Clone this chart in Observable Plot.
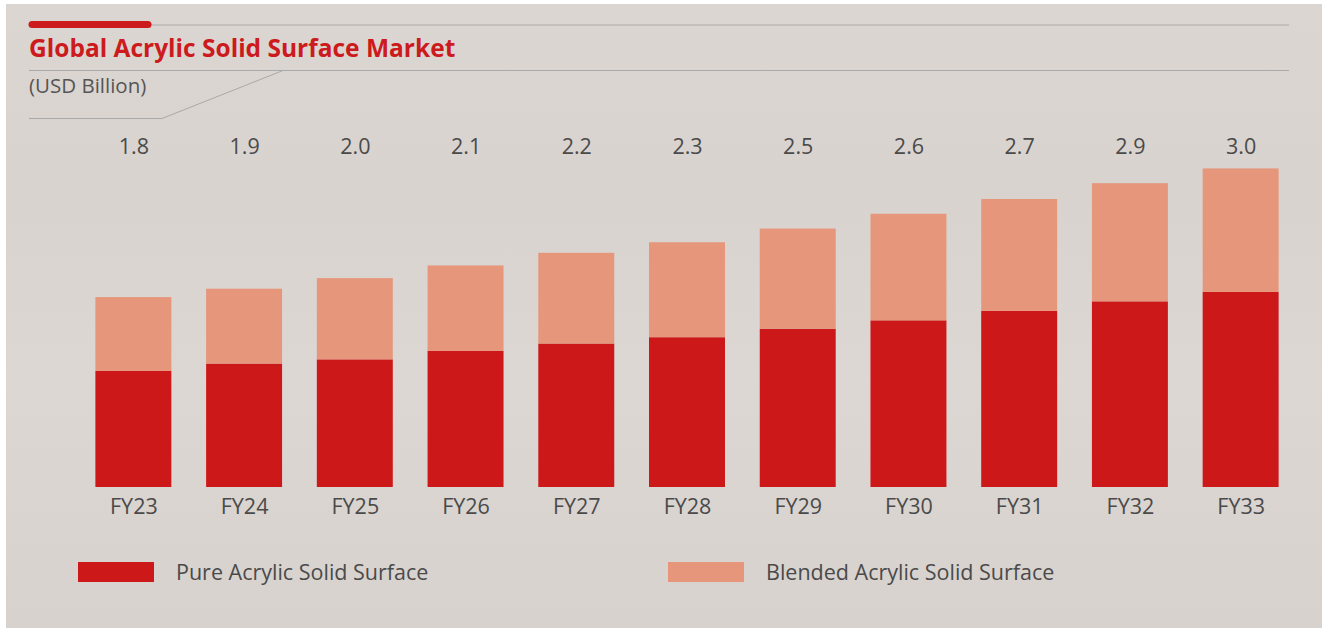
<!DOCTYPE html>
<html>
<head>
<meta charset="utf-8">
<script src="https://cdn.jsdelivr.net/npm/d3@7"></script>
<script src="https://cdn.jsdelivr.net/npm/@observablehq/plot@0.6"></script>
<style>
  html, body { margin: 0; padding: 0; background: #ffffff; }
  #page { position: relative; width: 1328px; height: 632px; overflow: hidden; font-family: "Open Sans", sans-serif; }
  #panel { position: absolute; left: 6px; top: 4px; width: 1316px; height: 624px;
    background: linear-gradient(180deg, #dcd6d2 0%, #d9d3cf 30%, #dcd7d3 60%, #d8d2ce 100%); }
  #deco { position: absolute; left: 0; top: 0; }
  #chart { position: absolute; left: 0; top: 0; }
  .legend-item { position: absolute; top: 562px; display: flex; align-items: center; }
  .swatch { width: 76px; height: 20px; }
  .legend-label { font-size: 21.5px; color: #4a4a4a; margin-left: 22px; line-height: 20px; }
</style>
</head>
<body>
<div id="page">
  <div id="panel"></div>
  <svg id="deco" width="1328" height="632">
    <line x1="151" y1="25" x2="1289" y2="25" stroke="#a9a9a9" stroke-width="1"/>
    <line x1="32" y1="24.5" x2="148" y2="24.5" stroke="#cc1a1d" stroke-width="7" stroke-linecap="round"/>
    <line x1="29" y1="70.5" x2="1289" y2="70.5" stroke="#a9a9a9" stroke-width="1"/>
    <polyline points="29,118.5 162,118.5 283,70.5" fill="none" stroke="#a9a9a9" stroke-width="1"/>
    <text x="29" y="57" fill="#cc1a1d" font-family="Open Sans, sans-serif" font-weight="bold" font-size="24.5">Global Acrylic Solid Surface Market</text>
    <text x="29" y="93" fill="#555555" font-family="Open Sans, sans-serif" font-size="20.5">(USD Billion)</text>
  </svg>
  <div id="chart"></div>
  <div class="legend-item" style="left:78px"><div class="swatch" style="background:#cd181a"></div><div class="legend-label">Pure Acrylic Solid Surface</div></div>
  <div class="legend-item" style="left:668px"><div class="swatch" style="background:#e6967b"></div><div class="legend-label">Blended Acrylic Solid Surface</div></div>
</div>
<script>
const years = ["FY23","FY24","FY25","FY26","FY27","FY28","FY29","FY30","FY31","FY32","FY33"];
const pure = [1.10, 1.17, 1.21, 1.29, 1.36, 1.42, 1.50, 1.58, 1.67, 1.76, 1.85];
const blended = [0.70, 0.71, 0.77, 0.81, 0.86, 0.90, 0.95, 1.01, 1.06, 1.12, 1.17];
const totalLabels = ["1.8","1.9","2.0","2.1","2.2","2.3","2.5","2.6","2.7","2.9","3.0"];
const seriesNames = ["Pure Acrylic Solid Surface", "Blended Acrylic Solid Surface"];
const seriesColors = ["#cd181a", "#e6967b"];

const rows = [];
years.forEach((y, i) => {
  rows.push({year: y, series: seriesNames[0], value: pure[i]});
  rows.push({year: y, series: seriesNames[1], value: blended[i]});
});
const labelRows = years.map((y, i) => ({year: y, label: totalLabels[i]}));

const chart = Plot.plot({
  width: 1328,
  height: 632,
  marginLeft: 78,
  marginRight: 32,
  marginTop: 147,
  marginBottom: 145,
  style: {background: "transparent", fontFamily: "'Open Sans', sans-serif", fontSize: "21px", color: "#4a4a4a"},
  x: {domain: years, paddingInner: 0.314, paddingOuter: 0.157, round: false, label: null},
  y: {domain: [0, 3.223], axis: null},
  color: {domain: seriesNames, range: seriesColors},
  marks: [
    Plot.barY(rows, {x: "year", y: "value", fill: "series", order: seriesNames}),
    Plot.text(labelRows, {x: "year", text: "label", frameAnchor: "top", lineAnchor: "middle", fontSize: 21.5, fill: "#4a4a4a"}),
    Plot.axisX({tickSize: 0, tickPadding: 11, fontSize: 21.5, fill: "#4a4a4a", label: null})
  ]
});
document.getElementById("chart").appendChild(chart);
</script>
</body>
</html>
